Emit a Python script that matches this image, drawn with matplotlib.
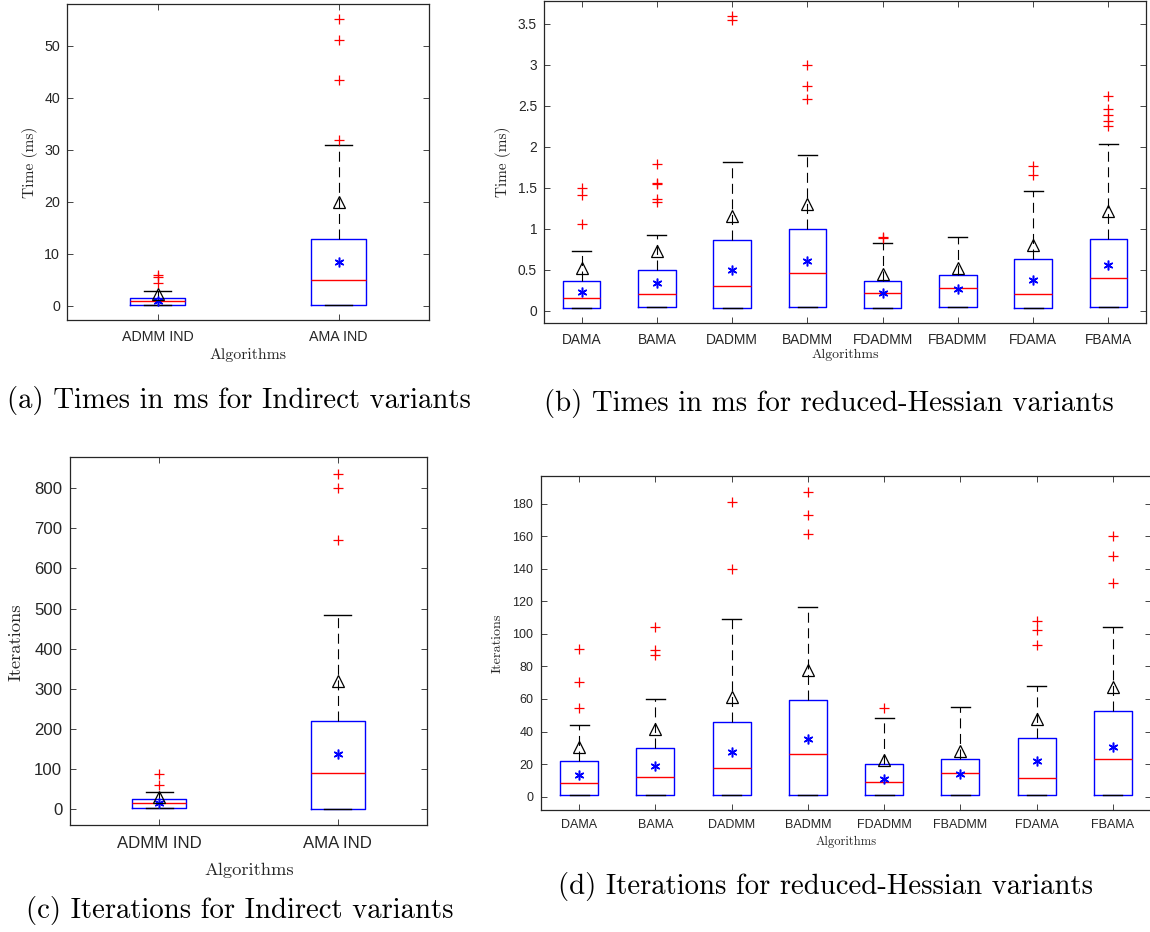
import matplotlib
matplotlib.use("Agg")
import matplotlib.pyplot as plt

# ---- timing / iteration statistics per algorithm ----
labels_ind = ["ADMM IND", "AMA IND"]
labels_rh = ["DAMA", "BAMA", "DADMM", "BADMM", "FDADMM", "FBADMM", "FDAMA", "FBAMA"]

# (a) times, indirect variants (ms)
a_q1 = [0.1, 0.1]
a_med = [0.9, 5.0]
a_q3 = [1.6, 12.8]
a_lo = [0.1, 0.1]
a_hi = [2.9, 31.0]
a_mean = [1.0, 8.4]
a_tri = [2.2, 20.0]
a_out = [[4.5, 5.5, 6.0], [31.9, 43.4, 51.0, 55.1]]

# (b) times, reduced-Hessian variants (ms)
b_q1 = [0.028, 0.04, 0.032, 0.04, 0.028, 0.04, 0.037, 0.044]
b_med = [0.15, 0.208, 0.30, 0.465, 0.22, 0.273, 0.203, 0.395]
b_q3 = [0.367, 0.493, 0.868, 0.998, 0.362, 0.44, 0.627, 0.875]
b_lo = [0.028, 0.04, 0.032, 0.04, 0.028, 0.04, 0.037, 0.044]
b_hi = [0.725, 0.92, 1.813, 1.902, 0.831, 0.9, 1.467, 2.033]
b_mean = [0.227, 0.334, 0.496, 0.611, 0.215, 0.264, 0.374, 0.554]
b_tri = [0.52, 0.729, 1.153, 1.308, 0.444, 0.526, 0.807, 1.214]
b_out = [[1.055, 1.41, 1.50], [1.33, 1.36, 1.55, 1.56, 1.79], [3.55, 3.60],
         [2.583, 2.738, 2.995], [0.888, 0.90], [], [1.654, 1.768],
         [2.253, 2.318, 2.388, 2.465, 2.62]]

# (c) iterations, indirect variants
c_q1 = [1.7, 1.0]
c_med = [15.8, 89.0]
c_q3 = [25.0, 219.0]
c_lo = [1.7, 1.0]
c_hi = [43.3, 485.0]
c_mean = [14.2, 137.0]
c_tri = [30.8, 318.0]
c_out = [[60.0, 86.6], [671.0, 800.0, 836.0]]

# (d) iterations, reduced-Hessian variants
d_q1 = [1.0, 1.0, 1.0, 1.0, 1.0, 1.0, 1.0, 1.0]
d_med = [8.2, 12.1, 17.6, 26.2, 9.0, 14.5, 11.7, 23.1]
d_q3 = [22.1, 30.1, 46.0, 59.3, 20.1, 23.1, 36.2, 52.6]
d_lo = [1.0, 1.0, 1.0, 1.0, 1.0, 1.0, 1.0, 1.0]
d_hi = [44.0, 60.1, 109.0, 116.4, 48.1, 55.0, 68.1, 104.3]
d_mean = [13.3, 18.6, 27.2, 35.4, 10.9, 13.7, 21.7, 30.5]
d_tri = [30.7, 41.3, 61.2, 78.1, 22.7, 27.8, 47.7, 67.1]
d_out = [[54.2, 70.2, 91.0], [86.9, 90.2, 104.1], [140.1, 181.0],
         [161.2, 173.2, 187.0], [54.2], [], [93.1, 102.1, 108.2],
         [131.1, 148.1, 160.2]]

W, H = 1150, 932
GRAY = "#262626"
SERIF = ["cmr10", "DejaVu Serif"]
SANS = ["Liberation Sans", "DejaVu Sans"]

fig = plt.figure(figsize=(W / 100, H / 100), dpi=100)


def add_axes_px(l, t, r, b):
    return fig.add_axes([l / W, 1 - b / H, (r - l) / W, (b - t) / H])


def draw_panel(box, labels, q1, med, q3, lo, hi, mean, tri, out,
               ylim, yticks, ylabel, width, fs_tick, fs_xlab, fs_ylab,
               xlab_px, ylab_px, xpad, ypad):
    l, t, r, b = box
    ax = add_axes_px(l, t, r, b)
    stats = []
    for i in range(len(labels)):
        stats.append(dict(med=med[i], q1=q1[i], q3=q3[i], whislo=lo[i],
                          whishi=hi[i], fliers=out[i], label=labels[i]))
    pos = list(range(1, len(labels) + 1))
    ax.bxp(stats, positions=pos, widths=width, capwidths=width / 2,
           showfliers=True,
           boxprops=dict(color="#0000ff", linewidth=1.0),
           medianprops=dict(color="#ff0000", linewidth=1.0),
           whiskerprops=dict(color="black", linewidth=0.8,
                             linestyle=(0, (9, 5))),
           capprops=dict(color="black", linewidth=1.0),
           flierprops=dict(marker="+", markeredgecolor="#ff0000",
                           markersize=7, markeredgewidth=0.9))
    # mean (asterisk) and upper marker (open triangle)
    ax.plot(pos, mean, linestyle="none", marker=(6, 2, 0), markersize=7,
            markeredgecolor="#0000ff", markeredgewidth=1.1, zorder=4)
    ax.plot(pos, tri, linestyle="none", marker="^", markersize=8,
            markerfacecolor="none", markeredgecolor="black",
            markeredgewidth=0.9, zorder=4)

    ax.set_xlim(0.5, len(labels) + 0.5)
    ax.set_ylim(*ylim)
    ax.set_xticks(pos)
    ax.set_xticklabels(labels, family=SANS, fontsize=fs_tick, color=GRAY)
    ax.set_yticks(yticks)
    ax.set_yticklabels([f"{v:g}" for v in yticks], family=SANS,
                       fontsize=fs_tick, color=GRAY)
    ax.tick_params(direction="in", top=True, right=True, length=4,
                   width=0.6, color=GRAY)
    ax.tick_params(axis="x", pad=xpad)
    ax.tick_params(axis="y", pad=ypad)
    for s in ax.spines.values():
        s.set_color(GRAY)
        s.set_linewidth(0.9)

    ax.set_xlabel("Algorithms", family=SERIF, fontsize=fs_xlab, color=GRAY)
    ax.set_ylabel(ylabel, family=SERIF, fontsize=fs_ylab, color=GRAY)
    ax.xaxis.label.set_va("center")
    ax.yaxis.label.set_va("center")
    ax.xaxis.set_label_coords((xlab_px[0] - l) / (r - l),
                              (b - xlab_px[1]) / (b - t))
    ax.yaxis.set_label_coords((ylab_px[0] - l) / (r - l),
                              (b - ylab_px[1]) / (b - t))
    return ax


draw_panel((67, 4, 429, 320), labels_ind, a_q1, a_med, a_q3, a_lo, a_hi,
           a_mean, a_tri, a_out, (-2.7, 58), list(range(0, 51, 10)),
           "Time (ms)", 0.3, 10.3, 11.4, 11.2, (248, 355), (30, 162), 7, 5)

draw_panel((544, 1, 1146, 323), labels_rh, b_q1, b_med, b_q3, b_lo, b_hi,
           b_mean, b_tri, b_out, (-0.15, 3.78),
           [0, 0.5, 1, 1.5, 2, 2.5, 3, 3.5],
           "Time (ms)", 0.5, 9.9, 10, 11, (845, 355), (503, 162), 7.5, 5)

draw_panel((70, 457, 427, 825), labels_ind, c_q1, c_med, c_q3, c_lo, c_hi,
           c_mean, c_tri, c_out, (-40, 878), list(range(0, 801, 100)),
           "Iterations", 0.3, 12.1, 13.3, 13.4, (249, 870), (16, 642), 8, 5.5)

draw_panel((541, 476, 1151, 810), labels_rh, d_q1, d_med, d_q3, d_lo, d_hi,
           d_mean, d_tri, d_out, (-8.2, 197), list(range(0, 181, 20)),
           "Iterations", 0.5, 9.0, 9, 10.2, (846, 842), (498, 643), 6.5, 5.5)

# sub-figure captions
captions = [
    ("(a) Times in ms for Indirect variants", 239, 400),
    ("(b) Times in ms for reduced-Hessian variants", 829, 403),
    ("(c) Iterations for Indirect variants", 240, 910),
    ("(d) Iterations for reduced-Hessian variants", 826, 886),
]
for text, x, y in captions:
    fig.text(x / W, 1 - y / H, text, family=SERIF, fontsize=20.7,
             ha="center", va="center", color="black")

fig.savefig("out.png", dpi=100)
